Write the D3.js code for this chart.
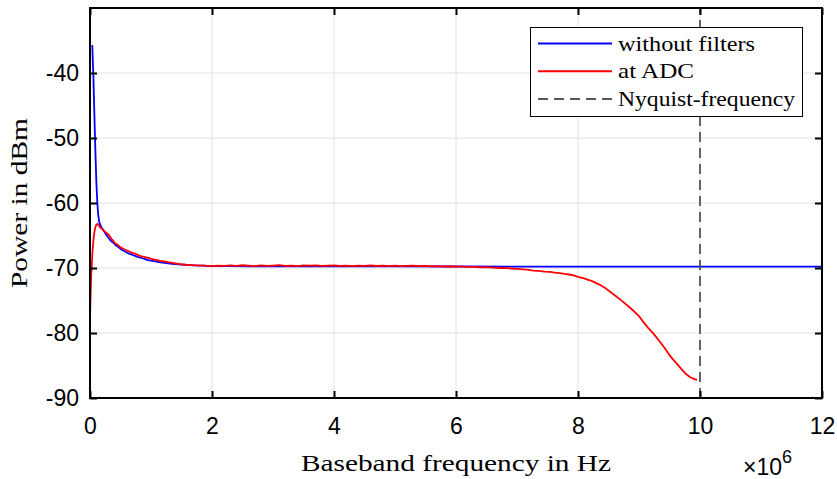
<!DOCTYPE html>
<html>
<head>
<meta charset="utf-8">
<script src="https://cdn.jsdelivr.net/npm/d3@7"></script>
<style>
  html, body { margin: 0; padding: 0; background: #fff; }
  svg { display: block; }
</style>
</head>
<body>
<svg id="chart" width="837" height="479"></svg>
<script>
// Spectrum data, frequency in MHz (axis shows x 10^6 Hz), power in dBm
const freqNoFilter = [0.038, 0.045, 0.054, 0.065, 0.075, 0.082, 0.095, 0.105, 0.12, 0.135, 0.15,
  0.18, 0.22, 0.26, 0.3, 0.34, 0.38, 0.42, 0.47, 0.52, 0.58, 0.64, 0.7, 0.78, 0.86, 0.95,
  1.05, 1.15, 1.25, 1.35, 1.45, 1.55, 1.7, 1.85, 2.0, 2.3, 2.6, 3.0, 4.0, 5.0, 6.0, 7.0,
  8.0, 9.0, 10.0, 11.0, 12.0];
const powerNoFilter = [-35.7, -38.0, -40.0, -44.0, -47.5, -50.0, -54.0, -57.0, -60.0, -61.8, -62.9,
  -63.6, -64.2, -64.8, -65.3, -65.8, -66.1, -66.5, -66.8, -67.2, -67.5, -67.8, -68.0, -68.3, -68.5, -68.8,
  -68.95, -69.15, -69.25, -69.35, -69.45, -69.5, -69.6, -69.65, -69.7, -69.72, -69.73, -69.75, -69.75, -69.76, -69.77, -69.78,
  -69.78, -69.79, -69.8, -69.8, -69.8];

const freqAdc = [0.0, 0.01, 0.02, 0.028, 0.04, 0.06, 0.08, 0.1, 0.12, 0.14, 0.17, 0.2, 0.22, 0.246,
  0.27, 0.3, 0.33, 0.35, 0.38, 0.41, 0.45, 0.5, 0.54, 0.574, 0.62, 0.65, 0.7, 0.738, 0.8, 0.85,
  0.92, 1.01, 1.08, 1.15, 1.22, 1.28, 1.35, 1.4, 1.48, 1.56, 1.65, 1.75, 1.87, 2.0,
  2.1, 2.2, 2.3, 2.4, 2.5, 2.6, 2.7, 2.8, 2.9, 3.0, 3.1, 3.2, 3.3, 3.4, 3.5, 3.6, 3.7, 3.8, 3.9,
  4.0, 4.1, 4.2, 4.3, 4.4, 4.5, 4.6, 4.7, 4.8, 4.9, 5.0, 5.1, 5.2, 5.3, 5.4, 5.5, 5.6, 5.7, 5.8, 5.9,
  6.0, 6.1, 6.2, 6.3, 6.4, 6.5, 6.6, 6.72, 6.8, 6.9, 7.0, 7.1, 7.2, 7.26, 7.35, 7.45, 7.54, 7.62,
  7.7, 7.78, 7.85, 7.93, 8.0, 8.1, 8.18, 8.25, 8.35, 8.44, 8.52, 8.6, 8.7, 8.8, 8.9, 9.0, 9.07,
  9.15, 9.25, 9.34, 9.42, 9.5, 9.56, 9.62, 9.7, 9.78, 9.84, 9.9, 9.95];
const powerAdc = [-77.7, -74.0, -71.0, -70.0, -67.5, -65.3, -64.0, -63.4, -63.2, -63.4, -63.8, -64.0, -64.2, -64.4,
  -64.6, -64.8, -65.2, -65.5, -65.8, -66.2, -66.4, -66.8, -67.0, -67.2, -67.35, -67.5, -67.7, -67.8, -68.05, -68.2,
  -68.35, -68.6, -68.75, -68.9, -69.0, -69.1, -69.2, -69.3, -69.4, -69.5, -69.55, -69.6, -69.65, -69.7,
  -69.62, -69.68, -69.6, -69.66, -69.58, -69.64, -69.7, -69.6, -69.67, -69.62, -69.57, -69.66, -69.63, -69.7, -69.61, -69.65, -69.59, -69.68, -69.64,
  -69.6, -69.67, -69.62, -69.7, -69.63, -69.66, -69.6, -69.69, -69.64, -69.72, -69.65, -69.7, -69.67, -69.62, -69.71, -69.68, -69.74, -69.7, -69.77, -69.73,
  -69.8, -69.78, -69.84, -69.82, -69.9, -69.88, -69.95, -70.0, -69.98, -70.08, -70.15, -70.2, -70.3, -70.4, -70.45, -70.55, -70.6, -70.72,
  -70.8, -70.92, -71.0, -71.15, -71.35, -71.6, -71.85, -72.1, -72.55, -73.05, -73.6, -74.2, -74.9, -75.7, -76.5, -77.4, -78.3,
  -79.2, -80.25, -81.3, -82.3, -83.4, -84.1, -84.7, -85.6, -86.4, -86.8, -87.05, -87.2];

const nyquistFreq = 10;

const xTicks = [0, 2, 4, 6, 8, 10, 12];
const yTicks = [-90, -80, -70, -60, -50, -40];
const legendLabels = ["without filters", "at ADC", "Nyquist-frequency"];

// Layout
const svg = d3.select("#chart");
const plot = { left: 90, top: 8, width: 732, height: 390 };

const x = d3.scaleLinear().domain([0, 12]).range([plot.left, plot.left + plot.width]);
const y = d3.scaleLinear().domain([-90, -30]).range([plot.top + plot.height, plot.top]);

const g = svg.append("g");

// Grid
g.append("g")
  .selectAll("line")
  .data(xTicks.slice(1, -1))
  .join("line")
  .attr("x1", d => x(d)).attr("x2", d => x(d))
  .attr("y1", plot.top).attr("y2", plot.top + plot.height)
  .attr("stroke", "#e2e2e2").attr("stroke-width", 1);
g.append("g")
  .selectAll("line")
  .data(yTicks.slice(1))
  .join("line")
  .attr("x1", plot.left).attr("x2", plot.left + plot.width)
  .attr("y1", d => y(d)).attr("y2", d => y(d))
  .attr("stroke", "#e2e2e2").attr("stroke-width", 1);

// Curves
const line = d3.line().x(d => x(d[0])).y(d => y(d[1]));
const noFilterPts = freqNoFilter.map((f, i) => [f, powerNoFilter[i]]);
const adcPts = freqAdc.map((f, i) => [f, powerAdc[i]]);

g.append("path").datum(noFilterPts)
  .attr("d", line).attr("fill", "none")
  .attr("stroke", "#0000ff").attr("stroke-width", 1.8).attr("stroke-linejoin", "round");
g.append("path").datum(adcPts)
  .attr("d", line).attr("fill", "none")
  .attr("stroke", "#ff0000").attr("stroke-width", 1.8).attr("stroke-linejoin", "round");

// Nyquist frequency marker
g.append("line")
  .attr("x1", x(nyquistFreq)).attr("x2", x(nyquistFreq))
  .attr("y1", y(-90)).attr("y2", y(-30))
  .attr("stroke", "#555").attr("stroke-width", 1.8)
  .attr("stroke-dasharray", "10,6");

// Axes (ticks point inward, box on all sides)
const tickLen = 7;
const axisFont = "'Liberation Sans', Arial, sans-serif";
const plain = d => String(d);   // ASCII hyphen for negative values

const xAxisB = d3.axisBottom(x).tickValues(xTicks).tickSize(-tickLen).tickPadding(20).tickFormat(plain);
const xAxisT = d3.axisTop(x).tickValues(xTicks).tickSize(-tickLen).tickFormat("");
const yAxisL = d3.axisLeft(y).tickValues(yTicks).tickSize(-tickLen).tickPadding(11).tickFormat(plain);
const yAxisR = d3.axisRight(y).tickValues(yTicks).tickSize(-tickLen).tickFormat("");

function styleAxis(sel) {
  sel.select(".domain").remove();
  sel.selectAll(".tick line").attr("stroke", "#000").attr("stroke-width", 2);
  sel.selectAll(".tick text").attr("fill", "#000")
    .style("font-family", axisFont).style("font-size", "23px");
}

g.append("g").attr("transform", `translate(0,${plot.top + plot.height})`).call(xAxisB).call(styleAxis);
g.append("g").attr("transform", `translate(0,${plot.top})`).call(xAxisT).call(styleAxis);
g.append("g").attr("transform", `translate(${plot.left},0)`).call(yAxisL).call(styleAxis);
g.append("g").attr("transform", `translate(${plot.left + plot.width},0)`).call(yAxisR).call(styleAxis);

// Frame
g.append("rect")
  .attr("x", plot.left).attr("y", plot.top)
  .attr("width", plot.width).attr("height", plot.height)
  .attr("fill", "none").attr("stroke", "#000").attr("stroke-width", 2);

// Axis labels
const serif = "'Liberation Serif', 'Times New Roman', serif";
svg.append("text")
  .attr("x", plot.left + plot.width / 2).attr("y", 471)
  .attr("text-anchor", "middle")
  .attr("textLength", 310).attr("lengthAdjust", "spacingAndGlyphs")
  .style("font-family", serif).style("font-size", "24px")
  .text("Baseband frequency in Hz");

svg.append("text")
  .attr("transform", `translate(27,${plot.top + plot.height / 2}) rotate(-90)`)
  .attr("text-anchor", "middle")
  .attr("textLength", 170).attr("lengthAdjust", "spacingAndGlyphs")
  .style("font-family", serif).style("font-size", "24px")
  .text("Power in dBm");

// Exponent label
const expo = svg.append("text")
  .attr("x", 792).attr("y", 475)
  .attr("text-anchor", "end")
  .style("font-family", axisFont).style("font-size", "23px");
expo.append("tspan").text("×10");
expo.append("tspan").attr("dy", -12).style("font-size", "18px").text("6");

// Legend
const legend = svg.append("g");
legend.append("rect")
  .attr("x", 530.5).attr("y", 27.5).attr("width", 272).attr("height", 89)
  .attr("fill", "#fff").attr("stroke", "#000").attr("stroke-width", 1);

const legendRows = [
  { label: legendLabels[0], color: "#0000ff", dash: null, width: 137 },
  { label: legendLabels[1], color: "#ff0000", dash: null, width: 76 },
  { label: legendLabels[2], color: "#555", dash: "10,6", width: 177 }
];
const rowY = d3.scalePoint().domain(legendRows.map(r => r.label)).range([43.5, 99]);

legendRows.forEach(r => {
  legend.append("line")
    .attr("x1", 538).attr("x2", 612)
    .attr("y1", rowY(r.label)).attr("y2", rowY(r.label))
    .attr("stroke", r.color).attr("stroke-width", 1.8)
    .attr("stroke-dasharray", r.dash);
  legend.append("text")
    .attr("x", 618).attr("y", rowY(r.label) + 7)
    .attr("textLength", r.width).attr("lengthAdjust", "spacingAndGlyphs")
    .style("font-family", serif).style("font-size", "21px")
    .text(r.label);
});
</script>
</body>
</html>
